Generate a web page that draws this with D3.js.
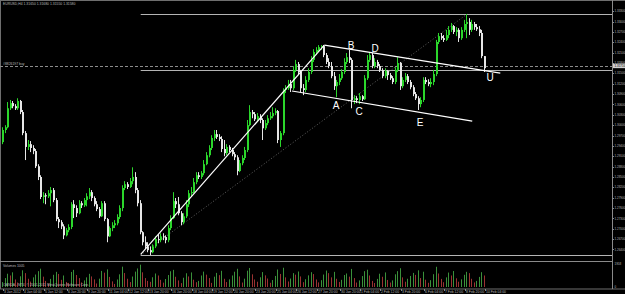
<!DOCTYPE html>
<html>
<head>
<meta charset="utf-8">
<script src="https://cdn.jsdelivr.net/npm/d3@7"></script>
<style>
body { margin: 0; background: #000; overflow: hidden; }
svg { display: block; }
text { font-family: "Liberation Sans", Arial, sans-serif; }
</style>
</head>
<body>
<svg width="625" height="294"></svg>
<script>
// EURUSD H4, 3 Jan - 10 Feb 2012
const firstOpen = 1.2951;
const closes = [
  1.2986,1.2994,1.3049,1.3064,1.3055,1.3049,1.3070,1.3038,1.2977,1.2937,
  1.2945,1.2934,1.2925,1.2881,1.2850,1.2792,1.2797,1.2794,1.2803,1.2812,
  1.2783,1.2728,1.2719,1.2707,1.2681,1.2696,1.2705,1.2771,1.2760,1.2745,
  1.2774,1.2768,1.2783,1.2794,1.2806,1.2789,1.2771,1.2757,1.2736,1.2774,
  1.2728,1.2678,1.2702,1.2710,1.2716,1.2734,1.2760,1.2818,1.2829,1.2821,
  1.2838,1.2850,1.2812,1.2774,1.2690,1.2661,1.2649,1.2638,1.2632,1.2649,
  1.2670,1.2667,1.2678,1.2676,1.2667,1.2702,1.2731,1.2780,1.2771,1.2745,
  1.2719,1.2736,1.2771,1.2803,1.2806,1.2835,1.2855,1.2850,1.2861,1.2887,
  1.2913,1.2934,1.2963,1.2974,1.2966,1.2960,1.2931,1.2919,1.2937,1.2928,
  1.2916,1.2907,1.2867,1.2890,1.2905,1.2928,1.3000,1.3038,1.3032,1.3017,
  1.3026,1.3015,1.2991,1.3006,1.3020,1.3026,1.3035,1.3041,1.2957,1.2977,
  1.3102,1.3107,1.3119,1.3107,1.3160,1.3177,1.3154,1.3107,1.3102,1.3131,
  1.3154,1.3189,1.3212,1.3218,1.3226,1.3229,1.3203,1.3183,1.3171,1.3142,
  1.3113,1.3125,1.3136,1.3154,1.3183,1.3197,1.3189,1.3073,1.3078,1.3073,
  1.3084,1.3075,1.3136,1.3189,1.3203,1.3171,1.3183,1.3171,1.3160,1.3142,
  1.3157,1.3145,1.3136,1.3125,1.3160,1.3180,1.3113,1.3131,1.3142,1.3125,
  1.3110,1.3090,1.3078,1.3061,1.3073,1.3131,1.3125,1.3119,1.3125,1.3148,
  1.3241,1.3258,1.3252,1.3247,1.3261,1.3276,1.3287,1.3270,1.3276,1.3252,
  1.3276,1.3293,1.3299,1.3276,1.3293,1.3284,1.3278,1.3267,1.3200,1.3165
];
const highs = [
  1.2994,1.3000,1.3067,1.3073,1.3070,1.3061,1.3078,1.3073,1.3044,1.2983,
  1.2957,1.2954,1.2942,1.2931,1.2887,1.2855,1.2806,1.2803,1.2812,1.2821,
  1.2818,1.2789,1.2734,1.2725,1.2713,1.2702,1.2713,1.2777,1.2783,1.2768,
  1.2783,1.2780,1.2789,1.2803,1.2818,1.2812,1.2794,1.2780,1.2763,1.2780,
  1.2780,1.2731,1.2707,1.2719,1.2725,1.2742,1.2768,1.2826,1.2838,1.2835,
  1.2847,1.2878,1.2864,1.2818,1.2783,1.2693,1.2678,1.2661,1.2649,1.2655,
  1.2678,1.2684,1.2687,1.2687,1.2681,1.2710,1.2739,1.2806,1.2789,1.2792,
  1.2751,1.2745,1.2783,1.2812,1.2821,1.2847,1.2864,1.2864,1.2867,1.2899,
  1.2922,1.2942,1.2971,1.2986,1.2986,1.2974,1.2968,1.2957,1.2945,1.2942,
  1.2934,1.2922,1.2913,1.2899,1.2913,1.2937,1.3015,1.3058,1.3044,1.3038,
  1.3035,1.3032,1.3020,1.3015,1.3029,1.3038,1.3052,1.3049,1.3044,1.2983,
  1.3107,1.3116,1.3131,1.3131,1.3171,1.3189,1.3183,1.3160,1.3119,1.3142,
  1.3165,1.3200,1.3220,1.3226,1.3232,1.3232,1.3232,1.3209,1.3194,1.3183,
  1.3154,1.3131,1.3148,1.3162,1.3194,1.3209,1.3218,1.3194,1.3087,1.3084,
  1.3093,1.3087,1.3145,1.3203,1.3212,1.3209,1.3194,1.3189,1.3177,1.3165,
  1.3165,1.3160,1.3151,1.3142,1.3168,1.3197,1.3183,1.3139,1.3151,1.3148,
  1.3131,1.3116,1.3096,1.3084,1.3081,1.3139,1.3139,1.3133,1.3136,1.3160,
  1.3247,1.3267,1.3267,1.3261,1.3276,1.3287,1.3296,1.3290,1.3284,1.3281,
  1.3284,1.3305,1.3322,1.3310,1.3305,1.3299,1.3293,1.3287,1.3276,1.3200
];
const lows = [
  1.2945,1.2977,1.2991,1.3044,1.3049,1.3044,1.3044,1.3032,1.2971,1.2899,
  1.2928,1.2922,1.2916,1.2876,1.2841,1.2786,1.2774,1.2771,1.2789,1.2765,
  1.2777,1.2722,1.2702,1.2699,1.2670,1.2678,1.2690,1.2699,1.2731,1.2734,
  1.2742,1.2760,1.2763,1.2765,1.2786,1.2780,1.2765,1.2751,1.2731,1.2734,
  1.2722,1.2661,1.2676,1.2693,1.2702,1.2710,1.2728,1.2751,1.2812,1.2815,
  1.2818,1.2829,1.2803,1.2765,1.2684,1.2652,1.2641,1.2632,1.2624,1.2629,
  1.2644,1.2658,1.2661,1.2667,1.2658,1.2661,1.2696,1.2728,1.2760,1.2739,
  1.2710,1.2713,1.2731,1.2763,1.2792,1.2803,1.2829,1.2844,1.2844,1.2855,
  1.2884,1.2907,1.2928,1.2954,1.2960,1.2954,1.2922,1.2910,1.2913,1.2922,
  1.2910,1.2899,1.2855,1.2864,1.2884,1.2899,1.2922,1.2997,1.3020,1.3012,
  1.3009,1.3006,1.2957,1.2986,1.3000,1.3015,1.3020,1.3029,1.2948,1.2937,
  1.2971,1.3093,1.3102,1.3096,1.3102,1.3154,1.3145,1.3096,1.3087,1.3096,
  1.3125,1.3148,1.3183,1.3203,1.3212,1.3218,1.3197,1.3177,1.3165,1.3136,
  1.3102,1.3081,1.3116,1.3131,1.3148,1.3177,1.3180,1.3049,1.3061,1.3064,
  1.3061,1.3070,1.3073,1.3131,1.3183,1.3165,1.3165,1.3165,1.3154,1.3136,
  1.3136,1.3131,1.3131,1.3119,1.3119,1.3154,1.3102,1.3107,1.3125,1.3119,
  1.3104,1.3084,1.3073,1.3044,1.3052,1.3067,1.3119,1.3113,1.3110,1.3116,
  1.3142,1.3235,1.3247,1.3241,1.3244,1.3252,1.3270,1.3264,1.3258,1.3241,
  1.3247,1.3270,1.3252,1.3261,1.3270,1.3276,1.3273,1.3258,1.3194,1.3154
];
const volumes = [
  420,760,1130,980,1250,640,380,910,1420,1180,
  700,460,820,1060,1350,1560,880,520,300,690,
  1040,1290,1110,610,980,430,350,1280,1460,1020,
  760,390,560,820,1120,900,650,300,710,1370,
  1220,1500,860,480,260,640,1080,1730,1190,700,
  420,890,1310,1580,1900,1250,760,520,440,830,
  1150,980,610,370,680,1020,1340,1460,870,560,
  330,790,1170,900,1240,620,410,520,980,1310,
  1050,760,350,880,1200,1010,1380,700,420,650,
  980,1300,1550,900,380,710,1390,1620,1080,640,
  450,830,1270,990,720,360,590,940,1490,1110,
  1640,820,470,720,1180,1050,1320,900,410,660,
  990,1260,1100,640,390,580,1060,1400,1180,820,
  1290,700,430,610,1020,1150,880,1540,760,380,
  560,930,1350,1470,980,520,340,690,1130,870,
  1240,600,380,560,1080,1350,1600,820,450,700,
  940,1200,1030,1420,760,1300,620,360,580,1090,
  1720,1150,690,410,820,1230,980,1360,740,450,
  650,1040,1290,1180,700,390,520,860,1260,980
];
const priceTicks = [1.2640,1.2670,1.2700,1.2730,1.2760,1.2790,1.2820,1.2850,1.2880,1.2910,
  1.2940,1.2970,1.3000,1.3030,1.3060,1.3090,1.3120,1.3150,1.3180,1.3210,1.3240,1.3270,1.3300,1.3330];
const timeLabels = ["3 Jan 2012","4 Jan 04:00","5 Jan 12:00","6 Jan 20:00","9 Jan 20:00","11 Jan 04:00",
  "12 Jan 12:00","13 Jan 20:00","16 Jan 20:00","18 Jan 04:00","19 Jan 12:00","20 Jan 20:00",
  "23 Jan 20:00","25 Jan 04:00","26 Jan 12:00","27 Jan 20:00","30 Jan 20:00","1 Feb 04:00",
  "2 Feb 12:00","3 Feb 20:00","6 Feb 04:00","7 Feb 12:00","8 Feb 20:00","10 Feb 04:00"];
const timeLabelBars = [0,8,16,25,33,41,49,57,66,74,82,90,99,107,115,123,132,140,148,156,165,173,181,189];

// drawn objects: bar index + price
const hLines = [ {bar: 54, price: 1.3322}, {bar: 54, price: 1.3160}, {bar: 54, price: 1.2624} ];
const orderLine = 1.3171;
const trendLines = [
  {b1: 54, p1: 1.2626, b2: 126, p2: 1.3232},
  {b1: 126, p1: 1.3232, b2: 195, p2: 1.3151},
  {b1: 113.3, p1: 1.3099, b2: 184, p2: 1.3012}
];
const dottedLine = {b1: 54, p1: 1.2624, b2: 182, p2: 1.3322};
const waveLabels = [
  {t: "A", bar: 130.6, price: 1.3058}, {t: "B", bar: 136.5, price: 1.3232},
  {t: "C", bar: 139.6, price: 1.3041}, {t: "D", bar: 145.9, price: 1.3223},
  {t: "E", bar: 163.5, price: 1.3009}, {t: "U", bar: 191, price: 1.3139}
];

const svg = d3.select("svg");
const axisX = 612;
const x = d3.scaleLinear().domain([0, 189]).range([3, 485]);
const y = d3.scaleLinear().domain([1.2624, 1.3322]).range([255, 14]);
const vy = d3.scaleLinear().domain([0, 1958]).range([287, 264]);

const up = "#2bd62b", down = "#e6e6e6", small = "#b8b8b8", fs = 3;

// frame
svg.append("rect").attr("x", 0.5).attr("y", 0.5).attr("width", 630).attr("height", 288.5)
  .attr("fill", "none").attr("stroke", "#6e6e6e");
svg.append("line").attr("x1", 0).attr("x2", axisX).attr("y1", 261.5).attr("y2", 261.5).attr("stroke", "#8a8a8a");
svg.append("line").attr("x1", axisX + 0.5).attr("x2", axisX + 0.5).attr("y1", 0).attr("y2", 289).attr("stroke", "#8a8a8a");

// price axis
const pa = svg.append("g");
pa.selectAll("line").data(priceTicks).enter().append("line")
  .attr("x1", axisX).attr("x2", axisX + 2)
  .attr("y1", d => Math.round(y(d)) + 0.5).attr("y2", d => Math.round(y(d)) + 0.5)
  .attr("stroke", "#8a8a8a");
pa.selectAll("text").data(priceTicks).enter().append("text")
  .attr("x", axisX + 2.5).attr("y", d => y(d) + 1.1)
  .attr("fill", small).attr("font-size", fs)
  .text(d => d.toFixed(5));

// volume axis
svg.append("text").attr("x", axisX + 2.5).attr("y", vy(1958) + 1.1).attr("fill", small).attr("font-size", fs).text("1958");
svg.append("text").attr("x", axisX + 2.5).attr("y", vy(0) + 1.1).attr("fill", small).attr("font-size", fs).text("0");

// time axis
const ta = svg.append("g");
ta.selectAll("line").data(timeLabelBars).enter().append("line")
  .attr("x1", d => Math.round(x(d)) + 0.5).attr("x2", d => Math.round(x(d)) + 0.5)
  .attr("y1", 289).attr("y2", 291).attr("stroke", "#8a8a8a");
ta.selectAll("text").data(timeLabelBars).enter().append("text")
  .attr("x", d => Math.round(x(d)) + 1).attr("y", 293)
  .attr("fill", small).attr("font-size", 3.4)
  .text((d, i) => timeLabels[i]);

// horizontal line objects
svg.selectAll(".hl").data(hLines).enter().append("line").attr("class", "hl")
  .attr("x1", d => x(d.bar)).attr("x2", axisX)
  .attr("y1", d => Math.round(y(d.price)) + 0.5).attr("y2", d => Math.round(y(d.price)) + 0.5)
  .attr("stroke", "#b4b4b4");
svg.append("line")
  .attr("x1", 0).attr("x2", axisX)
  .attr("y1", Math.round(y(orderLine)) + 0.5).attr("y2", Math.round(y(orderLine)) + 0.5)
  .attr("stroke", "#8c8c8c").attr("stroke-dasharray", "3,2");
svg.append("text").attr("x", 3).attr("y", y(orderLine) - 1.5)
  .attr("fill", small).attr("font-size", 3.4).text("#8826197 buy");
svg.append("rect").attr("x", axisX + 1).attr("y", y(orderLine) - 2.5).attr("width", 12).attr("height", 4.5)
  .attr("fill", "#d0d0d0");
svg.append("text").attr("x", axisX + 2.5).attr("y", y(orderLine) + 1.1)
  .attr("fill", "#000").attr("font-size", fs).text(orderLine.toFixed(5));

// dotted helper line
svg.append("line")
  .attr("x1", x(dottedLine.b1)).attr("y1", y(dottedLine.p1))
  .attr("x2", x(dottedLine.b2)).attr("y2", y(dottedLine.p2))
  .attr("stroke", "#7a7a7a").attr("stroke-width", 0.8).attr("stroke-dasharray", "1,2");

// candles
const bars = closes.map((c, i) => ({
  i: i, o: i ? closes[i - 1] : firstOpen, h: highs[i], l: lows[i], c: c, v: volumes[i]
}));
const cg = svg.append("g");
cg.selectAll("line").data(bars).enter().append("line")
  .attr("x1", d => Math.round(x(d.i)) - 0.5).attr("x2", d => Math.round(x(d.i)) - 0.5)
  .attr("y1", d => y(d.h)).attr("y2", d => y(d.l))
  .attr("stroke", d => d.c >= d.o ? up : down);
cg.selectAll("rect").data(bars).enter().append("rect")
  .attr("x", d => Math.round(x(d.i)) - 1).attr("width", 2)
  .attr("y", d => y(Math.max(d.o, d.c)))
  .attr("height", d => Math.max(1, Math.abs(y(d.o) - y(d.c))))
  .attr("fill", d => d.c >= d.o ? up : down);

// volumes
svg.append("g").selectAll("line").data(bars).enter().append("line")
  .attr("x1", d => Math.round(x(d.i)) - 0.5).attr("x2", d => Math.round(x(d.i)) - 0.5)
  .attr("y1", vy(0)).attr("y2", d => vy(d.v))
  .attr("stroke", d => (d.i && d.v < volumes[d.i - 1]) ? "#9a3232" : "#3a903a");

// trend lines + labels
svg.selectAll(".tl").data(trendLines).enter().append("line").attr("class", "tl")
  .attr("x1", d => x(d.b1)).attr("y1", d => y(d.p1))
  .attr("x2", d => x(d.b2)).attr("y2", d => y(d.p2))
  .attr("stroke", "#fff").attr("stroke-width", 1.2);
svg.selectAll(".wl").data(waveLabels).enter().append("text").attr("class", "wl")
  .attr("x", d => x(d.bar)).attr("y", d => y(d.price) + 3.5)
  .attr("text-anchor", "middle").attr("fill", "#fff").attr("font-size", 10)
  .text(d => d.t);

// texts
svg.append("text").attr("x", 3).attr("y", 5).attr("fill", small).attr("font-size", 3.4)
  .text("EURUSD,H4  1.31650 1.31680 1.31550 1.31580");
svg.append("text").attr("x", 3).attr("y", 267).attr("fill", small).attr("font-size", 3.4)
  .text("Volumes 1005");
svg.append("text").attr("x", 3).attr("y", 286).attr("fill", small).attr("font-size", 3.4)
  .text("OANDA - MT4, © 2001-2011 MetaQuotes Software Corp.");
</script>
</body>
</html>
